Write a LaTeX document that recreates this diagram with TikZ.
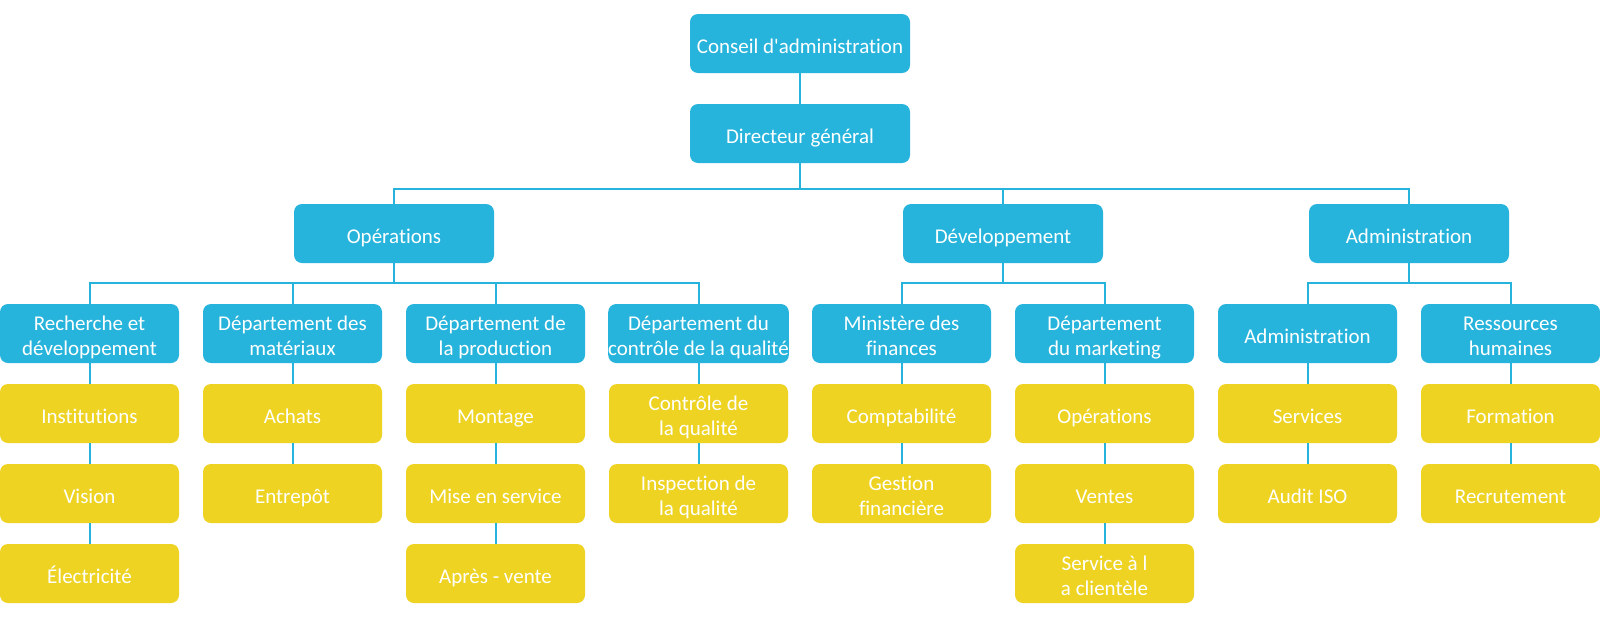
\documentclass[tikz,border=0pt]{standalone}
\usepackage{fontspec}
\setmainfont{Carlito}[RawFeature=-liga]
\definecolor{cblue}{RGB}{39,180,220}
\definecolor{cyel}{RGB}{238,211,34}
\newcommand\mystrutTop{\rule{0pt}{23pt}}
\newcommand\mystrutBot{\rule[-3.4pt]{0pt}{3.4pt}}
\newcommand\T[1]{\mystrutTop#1\mystrutBot}
\begin{document}
\begin{tikzpicture}[x=1pt,y=-1pt,
  box/.style={rounded corners=8pt, inner sep=0pt, align=center, text=white,
    font=\fontsize{21}{25}\selectfont, minimum height=59pt, minimum width=179pt},
  bluebox/.style={box, fill=cblue},
  yelbox/.style={box, fill=cyel},
  link/.style={draw=cblue, line width=2pt}]
\useasboundingbox[fill=white] (0,0) rectangle (1600,630);
% levels 0-2
\node[bluebox, minimum width=220pt] (ca) at (800,43.5) {\T{Conseil d\textquotesingle administration}};
\node[bluebox, minimum width=220pt] (dg) at (800,133.5) {\T{Directeur général}};
\node[bluebox, minimum width=200pt] (ops) at (394,233.5) {\T{Opérations}};
\node[bluebox, minimum width=200pt] (dev) at (1003,233.5) {\T{Développement}};
\node[bluebox, minimum width=200pt] (adm) at (1409,233.5) {\T{Administration}};
% level 3
\node[bluebox] (rd) at (89.5,333.5) {\T{Recherche et\\développement}};
\node[bluebox] (mat) at (292.5,333.5) {\T{Département des\\matériaux}};
\node[bluebox] (prod) at (495.5,333.5) {\T{Département de\\la production}};
\node[bluebox] (qual) at (698.5,333.5) {\T{Département du\\contrôle de la qualité}};
\node[bluebox] (fin) at (901.5,333.5) {\T{Ministère des\\finances}};
\node[bluebox] (mkt) at (1104.5,333.5) {\T{Département\\du marketing}};
\node[bluebox] (adm2) at (1307.5,333.5) {\T{Administration}};
\node[bluebox] (rh) at (1510.5,333.5) {\T{Ressources\\humaines}};
% yellow rows
\node[yelbox] (inst) at (89.5,413.5) {\T{Institutions}};
\node[yelbox] (vis) at (89.5,493.5) {\T{Vision}};
\node[yelbox] (elec) at (89.5,573.5) {\T{Électricité}};
\node[yelbox] (ach) at (292.5,413.5) {\T{Achats}};
\node[yelbox] (ent) at (292.5,493.5) {\T{Entrepôt}};
\node[yelbox] (mont) at (495.5,413.5) {\T{Montage}};
\node[yelbox] (mes) at (495.5,493.5) {\T{Mise en service}};
\node[yelbox] (apv) at (495.5,573.5) {\T{Après - vente}};
\node[yelbox] (ctrl) at (698.5,413.5) {\T{Contrôle de\\la qualité}};
\node[yelbox] (insp) at (698.5,493.5) {\T{Inspection de\\la qualité}};
\node[yelbox] (compta) at (901.5,413.5) {\T{Comptabilité}};
\node[yelbox] (gest) at (901.5,493.5) {\T{Gestion\\financière}};
\node[yelbox] (op2) at (1104.5,413.5) {\T{Opérations}};
\node[yelbox] (vent) at (1104.5,493.5) {\T{Ventes}};
\node[yelbox] (serv) at (1104.5,573.5) {\T{Service à l\\a clientèle}};
\node[yelbox] (svc) at (1307.5,413.5) {\T{Services}};
\node[yelbox] (iso) at (1307.5,493.5) {\T{Audit ISO}};
\node[yelbox] (form) at (1510.5,413.5) {\T{Formation}};
\node[yelbox] (rec) at (1510.5,493.5) {\T{Recrutement}};
% connectors
\draw[link] (ca.south) -- (dg.north);
\draw[link] (dg.south) -- (dg.south |- 0,189);
\draw[link] (ops.north) -- (ops.north |- 0,189) -- (adm.north |- 0,189) -- (adm.north);
\draw[link] (dev.north) -- (dev.north |- 0,189);
\draw[link] (ops.south) -- (ops.south |- 0,283);
\draw[link] (rd.north) -- (rd.north |- 0,283) -- (qual.north |- 0,283) -- (qual.north);
\draw[link] (mat.north) -- (mat.north |- 0,283);
\draw[link] (prod.north) -- (prod.north |- 0,283);
\draw[link] (dev.south) -- (dev.south |- 0,283);
\draw[link] (fin.north) -- (fin.north |- 0,283) -- (mkt.north |- 0,283) -- (mkt.north);
\draw[link] (adm.south) -- (adm.south |- 0,283);
\draw[link] (adm2.north) -- (adm2.north |- 0,283) -- (rh.north |- 0,283) -- (rh.north);
\foreach \a/\b in {rd/inst, inst/vis, vis/elec, mat/ach, ach/ent, prod/mont, mont/mes, mes/apv,
  qual/ctrl, ctrl/insp, fin/compta, compta/gest, mkt/op2, op2/vent, vent/serv,
  adm2/svc, svc/iso, rh/form, form/rec}
  \draw[link] (\a.south) -- (\b.north);
\end{tikzpicture}
\end{document}
